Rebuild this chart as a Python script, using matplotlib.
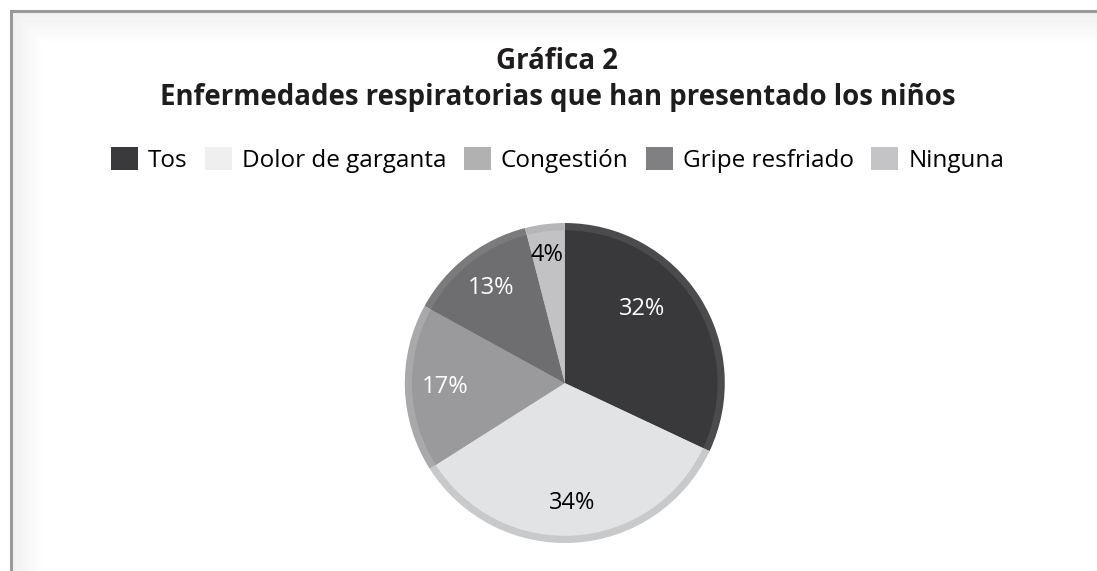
import matplotlib.pyplot as plt
from matplotlib.patches import Patch
from matplotlib.lines import Line2D
import numpy as np

# datos
categorias = ["Tos", "Dolor de garganta", "Congestión", "Gripe resfriado", "Ninguna"]
porcentajes = [32, 34, 17, 13, 4]
etiquetas = ["32%", "34%", "17%", "13%", "4%"]
colores = ["#39393b", "#e2e3e5", "#9a9a9c", "#6e6e70", "#c2c2c4"]
colores_borde = ["#4b4b4d", "#c8c9cb", "#a9a9ab", "#7b7b7d", "#b6b6b8"]
colores_leyenda = ["#3a3a3c", "#efefef", "#b1b1b1", "#808082", "#c4c4c6"]
color_texto = ["white", "black", "white", "white", "black"]

plt.rcParams['font.family'] = ['Open Sans', 'DejaVu Sans']

fig = plt.figure(figsize=(10.97, 5.71), dpi=100)

# fondo con sombra del marco
bg = fig.add_axes([0, 0, 1, 1], zorder=-10)
h, w = 571, 1097
yy, xx = np.mgrid[0:h, 0:w]
top = np.clip((yy - 12) / 32.0, 0, 1)
left = np.clip((xx - 12) / 32.0, 0, 1)
img = 0.94 + 0.06 * np.minimum(top, left)
img[yy < 11] = 1.0
img[xx < 11] = 1.0
bg.imshow(img, cmap="gray", vmin=0, vmax=1, aspect="auto", extent=[0, w, h, 0])
bg.set_xlim(0, w)
bg.set_ylim(h, 0)
bg.axis("off")
bg.add_line(Line2D([11, w], [10.5, 10.5], color="#9a9a9a", lw=2.2))
bg.add_line(Line2D([11, 11], [10.5, h], color="#9a9a9a", lw=2.2))

# titulo
fig.text(0.508, 0.879, "Gráfica 2", ha="center", va="baseline",
         fontsize=19.9, fontweight="bold", color="#1e1c1d")
fig.text(0.508, 0.816, "Enfermedades respiratorias que han presentado los niños",
         ha="center", va="baseline", fontsize=19.9, fontweight="bold", color="#1e1c1d")

# pastel
ax = fig.add_axes([0.369, 0.049, 0.2917, 0.5604])
ax.pie(porcentajes, colors=colores_borde, startangle=90, counterclock=False,
       radius=1.0, wedgeprops=dict(linewidth=0))
wedges, textos = ax.pie(porcentajes, colors=colores, startangle=90, counterclock=False,
                        radius=0.955, labels=etiquetas, labeldistance=0.75 / 0.955,
                        wedgeprops=dict(linewidth=0))
for wd, t, c in zip(wedges, textos, color_texto):
    t.set_color(c)
    t.set_fontsize(17)
    t.set_ha("center")
    t.set_va("center")

# ajuste de etiquetas como en el original
for i, (ang, r) in {0: (44, 0.67), 4: (98, 0.81)}.items():
    a = np.deg2rad(ang)
    textos[i].set_position((r * np.cos(a), r * np.sin(a)))

ax.set_xlim(-1, 1)
ax.set_ylim(-1, 1)
ax.set_aspect("equal")

# leyenda
handles = [Patch(facecolor=c, edgecolor="none") for c in colores_leyenda]
fig.legend(handles, categorias, loc="center", bbox_to_anchor=(0.508, 0.72), ncol=5,
           frameon=False, fontsize=17.5, handlelength=1.12, handleheight=1.12,
           handletextpad=0.4, columnspacing=0.72, borderpad=0)

fig.savefig("out.png", dpi=100)
